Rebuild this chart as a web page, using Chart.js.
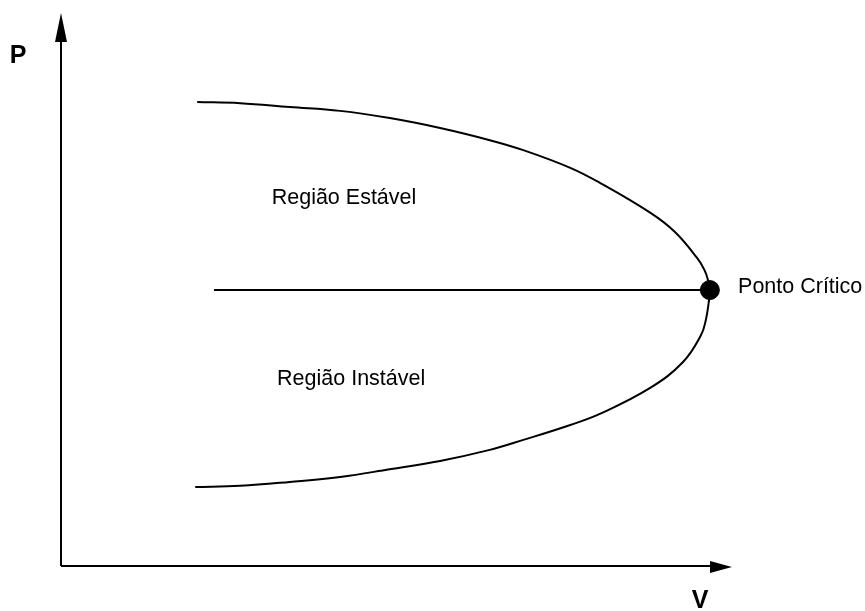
<!DOCTYPE html>
<html lang="pt">
<head>
<meta charset="UTF-8">
<title>Curva P-V</title>
<script src="https://cdn.jsdelivr.net/npm/chart.js"></script>
<style>
  body { margin: 0; background: #fff; }
</style>
</head>
<body>
<canvas id="grafico" width="865" height="611"></canvas>
<script>
// curva P-V (nariz): V e P em % da escala
const curvaV = [20.3, 26.7, 34.1, 41.6, 49.0, 56.5, 63.9, 68.9, 75.9, 80.3, 87.8, 91.5, 94.8, 95.9, 96.4, 96.7,
                96.5, 96.1, 95.4, 92.7, 87.8, 80.3, 75.9, 68.9, 63.9, 56.5, 49.0, 41.6, 34.1, 26.7, 20.0];
const curvaP = [83.9, 83.7, 83.0, 82.3, 81.0, 79.2, 77.0, 75.2, 72.0, 69.3, 63.9, 60.4, 55.7, 53.5, 51.8, 49.9,
                47.4, 44.5, 41.8, 36.9, 32.2, 27.5, 25.5, 22.8, 21.0, 19.0, 17.5, 16.1, 15.2, 14.5, 14.3];
// linha que separa as regioes
const linhaV = [22.8, 96.7];
const linhaP = [49.9, 49.9];
// ponto critico
const criticoV = [96.7];
const criticoP = [49.9];
// textos
const textos = ["Região Estável", "Região Instável", "Ponto Crítico"];
const textosV = [31.4, 32.2, 100.9];
const textosP = [66.5, 33.8, 50.5];
const rotuloX = "V";
const rotuloY = "P";

function pontos(xs, ys) {
  return xs.map((x, i) => ({ x: x, y: ys[i] }));
}

const eixosComSeta = {
  id: "eixosComSeta",
  afterDraw(chart) {
    const ctx = chart.ctx;
    const a = chart.chartArea;
    const sx = chart.scales.x, sy = chart.scales.y;
    ctx.save();
    ctx.strokeStyle = "#000";
    ctx.fillStyle = "#000";
    ctx.lineWidth = 2;
    // eixo vertical
    ctx.beginPath();
    ctx.moveTo(a.left, a.bottom);
    ctx.lineTo(a.left, a.top + 20);
    ctx.stroke();
    ctx.beginPath();
    ctx.moveTo(a.left, a.top);
    ctx.lineTo(a.left - 6, a.top + 29);
    ctx.lineTo(a.left + 6, a.top + 29);
    ctx.closePath();
    ctx.fill();
    // eixo horizontal
    ctx.beginPath();
    ctx.moveTo(a.left, a.bottom);
    ctx.lineTo(a.right - 15, a.bottom);
    ctx.stroke();
    ctx.beginPath();
    ctx.moveTo(a.right, a.bottom + 1);
    ctx.lineTo(a.right - 22, a.bottom - 5);
    ctx.lineTo(a.right - 22, a.bottom + 7);
    ctx.closePath();
    ctx.fill();
    // rotulos dos eixos
    ctx.font = "bold 25px 'Liberation Sans', Arial, sans-serif";
    ctx.textAlign = "center";
    ctx.textBaseline = "middle";
    ctx.fillText(rotuloY, 18, 56);
    ctx.fillText(rotuloX, 700, 601);
    // textos das regioes
    ctx.font = "21.5px 'Liberation Sans', Arial, sans-serif";
    ctx.textAlign = "left";
    textos.forEach((t, i) => {
      ctx.fillText(t, sx.getPixelForValue(textosV[i]), sy.getPixelForValue(textosP[i]));
    });
    ctx.restore();
  }
};

new Chart(document.getElementById("grafico"), {
  type: "scatter",
  data: {
    datasets: [
      {
        data: pontos(curvaV, curvaP),
        showLine: true,
        borderColor: "#000",
        borderWidth: 2,
        tension: 0.4,
        pointRadius: 0,
        clip: false
      },
      {
        data: pontos(linhaV, linhaP),
        showLine: true,
        borderColor: "#000",
        borderWidth: 2,
        pointRadius: 0,
        clip: false
      },
      {
        data: pontos(criticoV, criticoP),
        pointRadius: 9.5,
        pointBackgroundColor: "#000",
        pointBorderColor: "#000",
        clip: false
      }
    ]
  },
  options: {
    responsive: false,
    animation: false,
    layout: { padding: { left: 61, right: 133, top: 13, bottom: 45 } },
    plugins: { legend: { display: false }, tooltip: { enabled: false } },
    scales: {
      x: { type: "linear", min: 0, max: 100, display: false },
      y: { type: "linear", min: 0, max: 100, display: false }
    }
  },
  plugins: [eixosComSeta]
});
</script>
</body>
</html>
